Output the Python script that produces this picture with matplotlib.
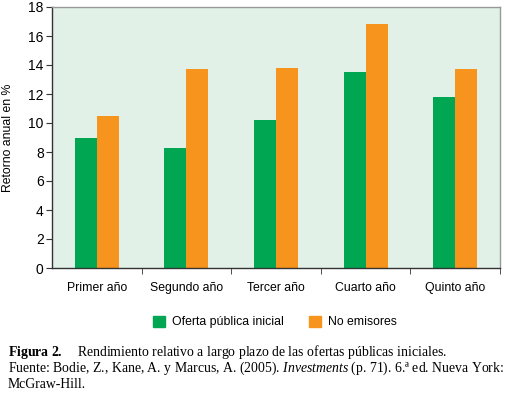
import numpy as np
import matplotlib
matplotlib.use("Agg")
import matplotlib.pyplot as plt
from matplotlib.patches import Patch

categorias = ["Primer año", "Segundo año", "Tercer año", "Cuarto año", "Quinto año"]
oferta = [9.0, 8.3, 10.2, 13.5, 11.8]
no_emisores = [10.5, 13.7, 13.8, 16.8, 13.7]
yticks = [0, 2, 4, 6, 8, 10, 12, 14, 16, 18]

verde = "#00a651"
naranja = "#f7941d"
fondo = "#e1f1e7"

sans = ["Liberation Sans Narrow", "Liberation Sans", "DejaVu Sans"]
serif = ["Liberation Serif", "DejaVu Serif"]

plt.rcParams["mathtext.fontset"] = "custom"
plt.rcParams["mathtext.rm"] = "Liberation Serif"
plt.rcParams["mathtext.it"] = "Liberation Serif:italic"
plt.rcParams["mathtext.bf"] = "Liberation Serif:bold"

fig = plt.figure(figsize=(5.06, 3.95), dpi=100)
ax = fig.add_axes([52/506, 1 - 268/395, 448/506, 261/395])
ax.set_facecolor(fondo)

x = np.arange(len(categorias))
w = 0.245
ax.bar(x - w/2, oferta, w, color=verde, zorder=2)
ax.bar(x + w/2, no_emisores, w, color=naranja, zorder=2)

ax.set_xlim(-0.5, len(categorias) - 0.5)
ax.set_ylim(0, 18)
ax.set_yticks(yticks)
ax.set_yticklabels([str(t) for t in yticks], family=sans, fontsize=10)
ax.set_xticks(x)
ax.set_xticklabels(categorias, family=sans, fontsize=8.8)
ax.tick_params(axis="x", which="major", length=0, pad=10)
ax.set_xticks(np.arange(len(categorias)) + 0.5, minor=True)
ax.tick_params(axis="x", which="minor", length=4, direction="out", color="#333333")
ax.tick_params(axis="y", length=4, color="#333333", pad=2)
ax.set_ylabel("Retorno anual en %", family=sans, fontsize=8.8, labelpad=10)

for s in ["left", "bottom"]:
    ax.spines[s].set_color("#333333")
    ax.spines[s].set_linewidth(1.0)
for s in ["top", "right"]:
    ax.spines[s].set_color("#999999")
    ax.spines[s].set_linewidth(1.0)

handles = [Patch(color=verde, label="Oferta pública inicial"),
           Patch(color=naranja, label="No emisores")]
fig.legend(handles=handles, loc="center", bbox_to_anchor=(275/506, 1 - 322/395),
           ncol=2, frameon=False, prop={"family": sans, "size": 8.8},
           handlelength=1.0, handleheight=1.0, columnspacing=2.0, handletextpad=0.6)

fs = 9.9
fig.text(8/506, 1 - 352/395,
         r"$\mathbf{Figura\ 2.}$" + "    Rendimiento relativo a largo plazo de las ofertas públicas iniciales.",
         fontsize=fs, family=serif, va="center")
fig.text(8/506, 1 - 368/395,
         "Fuente: Bodie, Z., Kane, A. y Marcus, A. (2005). $\\mathit{Investments}$ (p. 71). 6.ª ed. Nueva York:",
         fontsize=fs, family=serif, va="center")
fig.text(8/506, 1 - 384/395, "McGraw-Hill.", fontsize=fs, family=serif, va="center")

fig.savefig("out.png", dpi=100)
